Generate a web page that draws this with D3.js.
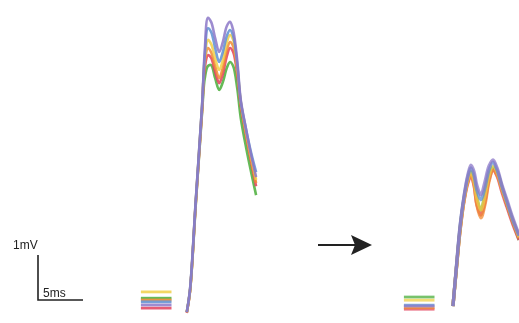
<!DOCTYPE html>
<html><head><meta charset="utf-8">
<script src="https://cdn.jsdelivr.net/npm/d3@7"></script>
<style>body{margin:0;background:#fff}svg{display:block}</style>
</head><body>
<svg id="c" width="519" height="323"></svg>
<script>
// ---- data (ms, mV) ----
const seriesNames = ["green","red","orange","yellow","blue","purple"];
const seriesColors = ["#4aae3a","#e2405c","#f28a32","#f0d048","#5d8fd2","#8c78c8"];

// left panel (before)
const leftTimes = [5.2,5.55,6.2,6.9,7.2,7.55,7.9,8.35,8.8,9.2,9.65,10.0,10.35,10.8,11.2,11.8,12.35,12.9];
const leftValues = [
  [-0.27,0.18,2.13,4.18,4.93,5.20,5.22,4.93,4.67,4.84,5.16,5.29,5.20,4.71,4.04,3.38,2.84,2.33],
  [-0.29,0.18,2.16,4.22,5.16,5.44,5.38,5.07,4.82,5.02,5.42,5.60,5.51,5.02,4.31,3.64,3.07,2.53],
  [-0.27,0.18,2.18,4.27,5.29,5.60,5.51,5.20,4.93,5.16,5.56,5.73,5.64,5.11,4.36,3.69,3.11,2.60],
  [-0.27,0.20,2.20,4.31,5.38,5.78,5.69,5.38,5.11,5.33,5.73,5.89,5.78,5.20,4.40,3.73,3.18,2.67],
  [-0.27,0.22,2.22,4.33,5.44,6.04,5.96,5.60,5.29,5.51,5.87,6.00,5.87,5.24,4.40,3.78,3.27,2.84],
  [-0.27,0.22,2.22,4.33,5.56,6.27,6.18,5.82,5.51,5.73,6.09,6.18,6.00,5.33,4.44,3.78,3.22,2.73]
];
const leftBaselines = [0.04,-0.18,0.0,0.18,-0.04,-0.11];

// right panel (after)
const rightTimes = [5.55,5.9,6.35,6.8,7.2,7.55,7.9,8.2,8.65,9.1,9.55,10.0,10.45,11.0,11.55,12.2,12.9];
const rightValues = [
  [-0.09,0.67,1.64,2.31,2.71,2.89,2.71,2.31,2.04,2.38,2.82,2.98,2.89,2.53,2.16,1.78,1.38],
  [-0.09,0.67,1.60,2.27,2.64,2.80,2.58,2.18,1.93,2.22,2.71,2.93,2.80,2.44,2.11,1.73,1.38],
  [-0.09,0.67,1.60,2.27,2.67,2.82,2.60,2.16,1.87,2.16,2.67,2.93,2.82,2.49,2.16,1.78,1.42],
  [-0.09,0.69,1.64,2.31,2.71,2.89,2.67,2.31,2.04,2.36,2.80,3.02,2.89,2.53,2.20,1.82,1.44],
  [-0.09,0.71,1.69,2.36,2.78,2.98,2.80,2.49,2.27,2.53,2.93,3.11,2.93,2.56,2.22,1.82,1.47],
  [-0.09,0.71,1.71,2.38,2.82,3.04,2.89,2.60,2.38,2.67,3.02,3.16,2.98,2.60,2.27,1.87,1.49]
];
const rightBaselines = [0.11,-0.16,-0.13,0.04,-0.07,-0.09];
const baselineSpan = [0.1, 3.5];

const scaleBar = {ms:5, mV:1};
const labels = {mV:"1mV", ms:"5ms"};

// ---- drawing ----
const svg = d3.select("#c");
const defs = svg.append("defs");
defs.append("filter").attr("id", "soft").append("feGaussianBlur").attr("stdDeviation", 0.45);
const pxPerMs = 9, pxPerMv = 45;

function panel(x0, y0, times, values, baselines, width, opacity) {
  const x = d3.scaleLinear().domain([0, 1]).range([x0, x0 + pxPerMs]);
  const y = d3.scaleLinear().domain([0, 1]).range([y0, y0 - pxPerMv]);
  const g = svg.append("g").attr("filter", "url(#soft)");
  const line = d3.line().x(d => x(d[0])).y(d => y(d[1])).curve(d3.curveCatmullRom.alpha(0.5));
  seriesNames.forEach((n, i) => {
    const b = baselines[i];
    g.append("path")
      .attr("d", d3.line().x(d => x(d[0])).y(d => y(d[1]))(baselineSpan.map(t => [t, b])))
      .attr("stroke", seriesColors[i]).attr("stroke-width", 2.8).attr("fill", "none")
      .attr("opacity", opacity);
    g.append("path")
      .attr("d", line(times.map((t, k) => [t, values[i][k]])))
      .attr("stroke", seriesColors[i]).attr("stroke-width", width).attr("fill", "none")
      .attr("stroke-linejoin", "round").attr("opacity", opacity);
  });
}
panel(140, 300, leftTimes, leftValues, leftBaselines, 2.6, 0.85);
panel(403, 302, rightTimes, rightValues, rightBaselines, 3.3, 0.75);

// scale bar
const sbx = d3.scaleLinear().domain([0, 1]).range([38, 38 + pxPerMs]);
const sby = d3.scaleLinear().domain([0, 1]).range([300, 300 - pxPerMv]);
svg.append("path")
  .attr("d", `M${sbx(0)},${sby(scaleBar.mV)}V${sby(0)}H${sbx(scaleBar.ms)}`)
  .attr("stroke", "#222").attr("stroke-width", 1.6).attr("fill", "none");
svg.append("text").attr("x", 13).attr("y", 249).text(labels.mV)
  .attr("font-family", "Liberation Sans, Arial, sans-serif").attr("font-size", 12).attr("fill", "#222");
svg.append("text").attr("x", 43).attr("y", 297).text(labels.ms)
  .attr("font-family", "Liberation Sans, Arial, sans-serif").attr("font-size", 12).attr("fill", "#222");

// arrow
svg.append("line").attr("x1", 318).attr("y1", 245).attr("x2", 356).attr("y2", 245)
  .attr("stroke", "#222").attr("stroke-width", 2);
svg.append("path").attr("d", "M351,235L372,245L351,255L355,245Z").attr("fill", "#222");
</script>
</body></html>
